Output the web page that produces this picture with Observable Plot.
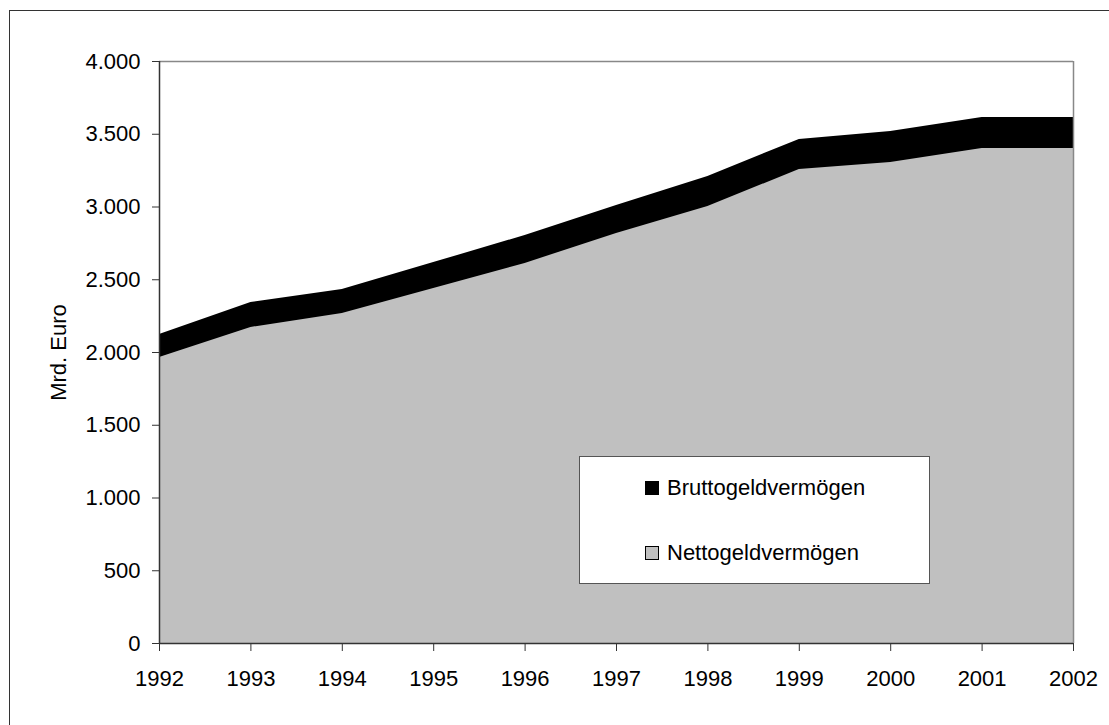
<!DOCTYPE html>
<html>
<head>
<meta charset="utf-8">
<script src="https://cdn.jsdelivr.net/npm/d3@7"></script>
<script src="https://cdn.jsdelivr.net/npm/@observablehq/plot@0.6"></script>
<style>
  html, body { margin: 0; padding: 0; background: #fff; }
  body { width: 1109px; height: 725px; position: relative; overflow: hidden; font-family: "Liberation Sans", Arial, sans-serif; }
  #frame { position: absolute; left: 9px; top: 10px; width: 1300px; height: 900px; border-left: 1.5px solid #333; border-top: 1.5px solid #333; }
  #chart { position: absolute; left: 0; top: 0; }
  #legend { position: absolute; left: 579px; top: 456px; width: 351px; height: 128px; background: #fff; border: 1px solid #555; box-sizing: border-box; font-size: 22px; color: #000; }
  .item { position: absolute; left: 65px; display: flex; align-items: center; white-space: nowrap; }
  .sw { width: 12px; height: 12px; border: 1px solid #000; margin-right: 8px; }
</style>
</head>
<body>
<div id="frame"></div>
<div id="chart"></div>
<div id="legend">
  <div class="item" style="top:18px"><span class="sw" style="background:#000"></span><span>Bruttogeldvermögen</span></div>
  <div class="item" style="top:83px"><span class="sw" style="background:#c0c0c0"></span><span>Nettogeldvermögen</span></div>
</div>
<script>
const years = [1992, 1993, 1994, 1995, 1996, 1997, 1998, 1999, 2000, 2001, 2002];
const brutto = [2124, 2344, 2433, 2618, 2804, 3010, 3210, 3464, 3519, 3615, 3615];
const netto = [1966, 2172, 2268, 2440, 2612, 2818, 3003, 3258, 3306, 3402, 3402];
const yTicks = [0, 500, 1000, 1500, 2000, 2500, 3000, 3500, 4000];
const yLabel = "Mrd. Euro";

const data = years.map((y, i) => ({year: y, brutto: brutto[i], netto: netto[i]}));
const de = d3.formatLocale({decimal: ",", thousands: ".", grouping: [3], currency: ["", " €"]});
const fmt = de.format(",d");

const chart = Plot.plot({
  width: 1109,
  height: 725,
  marginLeft: 159,
  marginRight: 36,
  marginTop: 61,
  marginBottom: 82,
  style: {fontFamily: "Liberation Sans, Arial, sans-serif", fontSize: "22px", color: "#000", background: "transparent"},
  x: {domain: [1992, 2002], ticks: years, tickFormat: d => String(d), tickSize: 8, tickPadding: 19, label: null},
  y: {domain: [0, 4000], ticks: yTicks, tickFormat: fmt, tickSize: 7, tickPadding: 12, label: null},
  marks: [
    Plot.areaY(data, {x: "year", y: "brutto", fill: "#000"}),
    Plot.areaY(data, {x: "year", y: "netto", fill: "#c0c0c0"}),
    Plot.ruleY([4000], {stroke: "#888", strokeWidth: 1.5}),
    Plot.ruleX([2002], {stroke: "#888", strokeWidth: 1.5}),
    Plot.ruleY([0], {stroke: "#333", strokeWidth: 1.5}),
    Plot.ruleX([1992], {stroke: "#333", strokeWidth: 1.5}),
    Plot.axisX({ticks: years, tickFormat: d => String(d), tickSize: 8, tickPadding: 19, stroke: "#333", fontSize: 22}),
    Plot.axisY({ticks: yTicks, tickFormat: fmt, tickSize: 7, tickPadding: 12, stroke: "#333", fontSize: 22, label: null}),
    Plot.text([yLabel], {frameAnchor: "left", textAnchor: "middle", dx: -101, rotate: -90, fontSize: 22, text: d => d})
  ]
});
document.getElementById("chart").appendChild(chart);
</script>
</body>
</html>
